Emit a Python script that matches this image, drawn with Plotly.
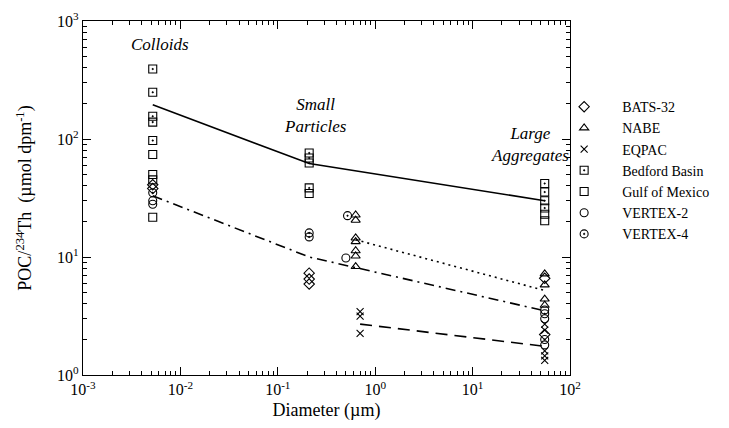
import plotly.graph_objects as go

# ---- data ----
COLLOID = 0.0052
SMALL = 0.21
LARGE = 55

bats_x = [COLLOID, COLLOID, SMALL, SMALL, SMALL, LARGE, LARGE]
bats_y = [41, 38, 7.3, 6.5, 5.9, 6.6, 2.2]

nabe_x = [0.63] * 7 + [LARGE] * 4
nabe_y = [22.7, 20.5, 14.5, 13.5, 11.3, 10.2, 8.3, 7.2, 5.8, 4.4, 3.9]

eqpac_x = [0.7] * 3 + [LARGE] * 5
eqpac_y = [3.45, 3.15, 2.25, 2.7, 2.4, 1.6, 1.45, 1.33]

bedford_x = [COLLOID] * 5 + [SMALL] * 4 + [LARGE] * 4
bedford_y = [392, 249, 156, 139, 97, 76, 69, 62.6, 38.5, 42, 35.5, 30, 26]

gulf_x = [COLLOID] * 4 + [SMALL] + [LARGE] * 2
gulf_y = [74, 50, 45, 21.7, 34.5, 23, 20.3]

v2_x = [COLLOID, COLLOID, 0.5, LARGE, LARGE, LARGE]
v2_y = [30, 28, 9.8, 3.55, 3.0, 1.8]

v4_x = [COLLOID, SMALL, SMALL, 0.52, LARGE, LARGE]
v4_y = [35, 16, 14.8, 22.4, 3.3, 2.0]

# fitted trend lines
solid_x = [COLLOID, SMALL, LARGE]
solid_y = [195, 62, 30]
dashdot_x = [COLLOID, SMALL, LARGE]
dashdot_y = [33, 10, 3.5]
dotted_x = [0.63, LARGE]
dotted_y = [14, 5.2]
dashed_x = [0.7, LARGE]
dashed_y = [2.7, 1.75]

x_ticks = [1e-3, 1e-2, 1e-1, 1e0, 1e1, 1e2]
x_ticktext = ["10<sup>-3</sup>", "10<sup>-2</sup>", "10<sup>-1</sup>", "10<sup>0</sup>",
              "10<sup>1</sup>", "10<sup>2</sup>"]
y_ticks = [1e0, 1e1, 1e2, 1e3]
y_ticktext = ["10<sup>0</sup>", "10<sup>1</sup>", "10<sup>2</sup>", "10<sup>3</sup>"]

FONT = "'Liberation Serif', 'Times New Roman', Times, serif"

fig = go.Figure()

line_specs = [
    (solid_x, solid_y, "solid"),
    (dashdot_x, dashdot_y, "10px,5px,2px,5px"),
    (dotted_x, dotted_y, "2px,4px"),
    (dashed_x, dashed_y, "12px,7px"),
]
for lx, ly, dash in line_specs:
    fig.add_trace(go.Scatter(x=lx, y=ly, mode="lines", showlegend=False,
                             line=dict(color="black", width=1.6, dash=dash),
                             hoverinfo="skip"))

series = [
    ("BATS-32", bats_x, bats_y, "diamond-open", 8),
    ("NABE", nabe_x, nabe_y, "triangle-up-open", 8),
    ("EQPAC", eqpac_x, eqpac_y, "x-thin", 7),
    ("Bedford Basin", bedford_x, bedford_y, "square-open-dot", 8),
    ("Gulf of Mexico", gulf_x, gulf_y, "square-open", 8),
    ("VERTEX-2", v2_x, v2_y, "circle-open", 8),
    ("VERTEX-4", v4_x, v4_y, "circle-open-dot", 8),
]
for name, sx, sy, sym, size in series:
    fig.add_trace(go.Scatter(x=sx, y=sy, mode="markers", name=name,
                             marker=dict(symbol=sym, size=size, color="black",
                                         line=dict(color="black", width=1.1))))

# invisible trace to anchor the mirrored top/right tick axes
fig.add_trace(go.Scatter(x=[1e-3], y=[1], xaxis="x2", yaxis="y2", mode="markers",
                         marker=dict(opacity=0), showlegend=False, hoverinfo="skip"))

minor_x = [m * 10 ** e for e in range(-3, 2) for m in range(2, 10)]
minor_y = [m * 10 ** e for e in range(0, 3) for m in range(2, 10)]

tick_common = dict(ticks="inside", ticklen=8, tickwidth=1, tickcolor="black",
                   showgrid=False, zeroline=False, automargin=False,
                   tickfont=dict(family=FONT, size=16, color="black"))
minor_x_d = dict(tickvals=minor_x, ticks="inside", ticklen=4, tickcolor="black", showgrid=False)
minor_y_d = dict(tickvals=minor_y, ticks="inside", ticklen=4, tickcolor="black", showgrid=False)

fig.update_layout(
    xaxis=dict(type="log", range=[-3, 2], tickvals=x_ticks, ticktext=x_ticktext,
               showline=True, linecolor="black", linewidth=1.3, mirror=True,
               minor=minor_x_d,
               title=dict(text="Diameter (µm)", font=dict(family=FONT, size=18, color="black"),
                          standoff=6),
               **tick_common),
    yaxis=dict(type="log", range=[0, 3], tickvals=y_ticks, ticktext=y_ticktext,
               showline=True, linecolor="black", linewidth=1.3, mirror=True,
               minor=minor_y_d,
               title=dict(text="POC/<sup>234</sup>Th  (µmol dpm<sup>-1</sup>)",
                          font=dict(family=FONT, size=18, color="black"), standoff=20),
               **tick_common),
    xaxis2=dict(type="log", range=[-3, 2], tickvals=x_ticks, overlaying="x", side="top",
                anchor="y2", showticklabels=False, minor=minor_x_d, **tick_common),
    yaxis2=dict(type="log", range=[0, 3], tickvals=y_ticks, overlaying="y", side="right",
                anchor="x2", showticklabels=False, minor=minor_y_d, **tick_common),
)

ann_font = dict(family=FONT, size=17, color="black", style="italic")
fig.add_annotation(x=-2.21, y=2.80, text="Colloids", showarrow=False, font=ann_font)
fig.add_annotation(x=-0.61, y=2.20, text="Small<br>Particles", showarrow=False, font=ann_font)
fig.add_annotation(x=1.59, y=1.95, text="Large<br>Aggregates", showarrow=False, font=ann_font)

fig.update_layout(
    width=729, height=428,
    margin=dict(l=75, r=167, t=13, b=61),
    paper_bgcolor="white", plot_bgcolor="white",
    font=dict(family=FONT, color="black"),
    legend=dict(x=0.951, xanchor="left", y=0.802, yanchor="top",
                font=dict(family=FONT, size=14, color="black"),
                itemwidth=66, tracegroupgap=0, bgcolor="rgba(0,0,0,0)"),
)

fig.write_html("out.html")
